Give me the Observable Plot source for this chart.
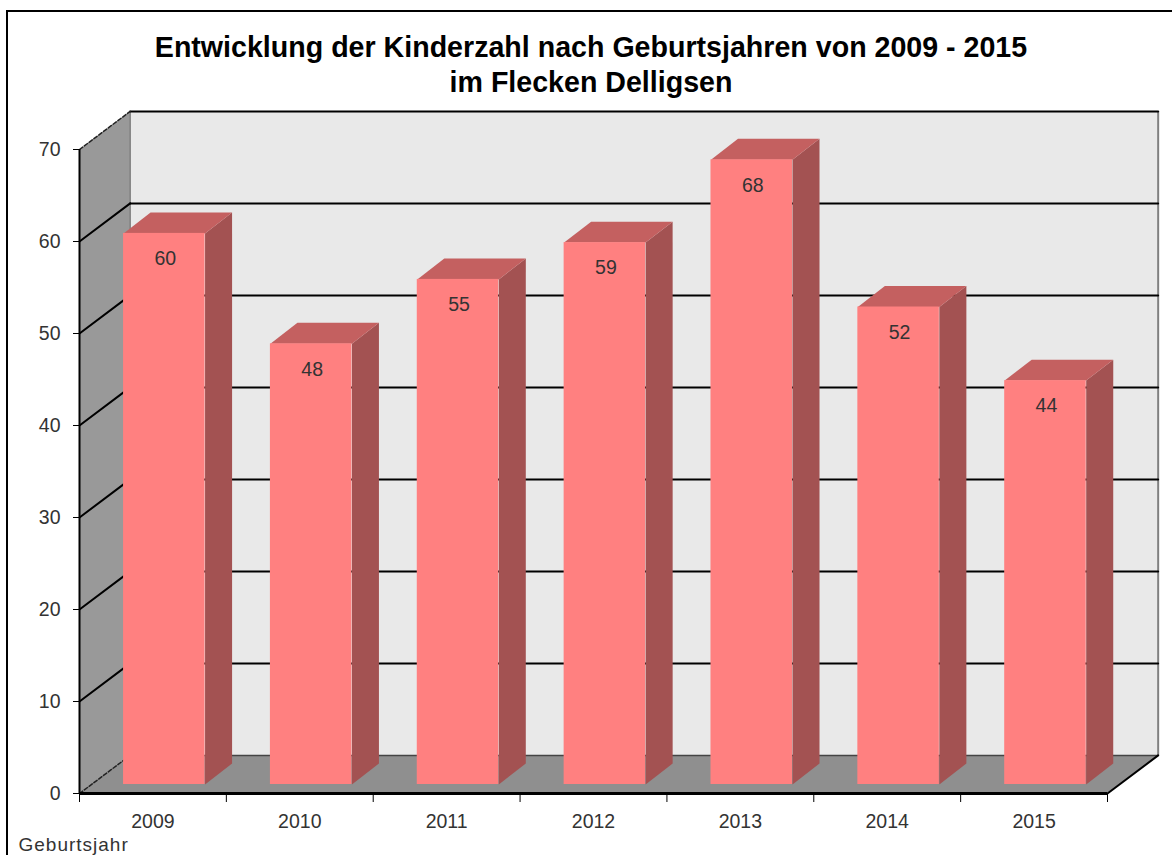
<!DOCTYPE html>
<html lang="de">
<head>
<meta charset="utf-8">
<title>Entwicklung der Kinderzahl</title>
<script src="https://cdn.jsdelivr.net/npm/d3@7"></script>
<script src="https://cdn.jsdelivr.net/npm/@observablehq/plot@0.6"></script>
<style>
  html, body { margin: 0; padding: 0; background: #fff; }
  body { width: 1172px; height: 855px; overflow: hidden; font-family: "Liberation Sans", Arial, sans-serif; }
  #frame { margin: 10px 0 0 6px; border-top: 2px solid #000; border-left: 2px solid #000; height: 843px; }
  #title { margin: 0; height: 70px; padding-top: 18px; padding-left: 2px; font-size: 28.6px; line-height: 35px; font-weight: bold; text-align: center; color: #000; white-space: nowrap; }
  #chart svg { display: block; overflow: visible; }
  .caption text { letter-spacing: 1px; }
</style>
</head>
<body>
<div id="frame">
  <h1 id="title">Entwicklung der Kinderzahl nach Geburtsjahren von 2009 - 2015<br>im Flecken Delligsen</h1>
  <div id="chart"></div>
</div>
<script>
const years = ["2009", "2010", "2011", "2012", "2013", "2014", "2015"];
const counts = [60, 48, 55, 59, 68, 52, 44];
const yTicks = [0, 10, 20, 30, 40, 50, 60, 70];
const xEdges = [0, 1, 2, 3, 4, 5, 6, 7];
const axisTitle = "Geburtsjahr";

// oblique 3D projection, expressed in data units of the two scales
const wallDx = 0.345, wallDy = 4.14;     // depth of the chart box
const barLeft = 0.30, barRight = 0.855;  // front face inside a category
const barLift = 0.88;                    // bar tops stand slightly behind the front edge
const barFoot = 0.98;                    // bar feet, same plane
const barDx = 0.184, barDy = 2.28;       // depth of a bar

const nCat = years.length, yMax = 70;
const poly = (pts) => pts.map(([x, y]) => ({x, y}));

const sideWall = poly([[0,0],[wallDx,wallDy],[wallDx,yMax+wallDy],[0,yMax]]);
const backWall = poly([[wallDx,wallDy],[nCat+wallDx,wallDy],[nCat+wallDx,yMax+wallDy],[wallDx,yMax+wallDy]]);
const floor = poly([[0,0],[nCat,0],[nCat+wallDx,wallDy],[wallDx,wallDy]]);

const gridBack = yTicks.filter(v => v > 0).flatMap(v => [
  {x: wallDx, y: v + wallDy, k: v}, {x: nCat + wallDx, y: v + wallDy, k: v}
]);
const gridSide = yTicks.filter(v => v > 0 && v < yMax).flatMap(v => [
  {x: 0, y: v, k: v}, {x: wallDx, y: v + wallDy, k: v}
]);
const dashedSide = [0, yMax].flatMap(v => [
  {x: 0, y: v, k: v}, {x: wallDx, y: v + wallDy, k: v}
]);

const bars = years.map((year, i) => ({
  year, value: counts[i],
  x1: i + barLeft, x2: i + barRight,
  y1: barFoot, y2: counts[i] + barLift
}));
const sideFaces = bars.flatMap((b, k) => poly([
  [b.x2, b.y1],[b.x2 + barDx, b.y1 + barDy],[b.x2 + barDx, b.y2 + barDy],[b.x2, b.y2]
]).map(p => ({...p, k})));
const topFaces = bars.flatMap((b, k) => poly([
  [b.x1, b.y2],[b.x2, b.y2],[b.x2 + barDx, b.y2 + barDy],[b.x1 + barDx, b.y2 + barDy]
]).map(p => ({...p, k})));

const chart = Plot.plot({
  width: 1164, height: 743,
  marginLeft: 71, marginRight: 65, marginTop: 49, marginBottom: 50,
  x: {domain: [0, nCat]},
  y: {domain: [0, yMax]},
  style: {fontFamily: '"Liberation Sans", Arial, sans-serif', fontSize: "19.5px", background: "transparent"},
  marks: [
    Plot.line(backWall, {x: "x", y: "y", fill: "#e9e9e9"}),
    Plot.line(sideWall, {x: "x", y: "y", fill: "#999999"}),
    Plot.line(floor, {x: "x", y: "y", fill: "#8f8f8f"}),
    Plot.ruleX([wallDx], {y1: wallDy, y2: yMax + wallDy, stroke: "#808080", strokeWidth: 1.5}),
    Plot.ruleX([nCat + wallDx], {y1: wallDy, y2: yMax + wallDy, stroke: "#808080", strokeWidth: 2}),
    Plot.line(gridBack, {x: "x", y: "y", z: "k", stroke: "#000", strokeWidth: 2}),
    Plot.line(gridSide, {x: "x", y: "y", z: "k", stroke: "#000", strokeWidth: 2}),
    Plot.line(dashedSide, {x: "x", y: "y", z: "k", stroke: "#222", strokeWidth: 1.5, strokeDasharray: "4,2"}),
    Plot.ruleY([wallDy], {x1: wallDx, x2: nCat + wallDx, stroke: "#444", strokeWidth: 1.5}),
    Plot.line([{x: nCat, y: 0}, {x: nCat + wallDx, y: wallDy}], {x: "x", y: "y", stroke: "#000", strokeWidth: 2}),
    Plot.line(sideFaces, {x: "x", y: "y", z: "k", fill: "#a35252"}),
    Plot.line(topFaces, {x: "x", y: "y", z: "k", fill: "#c46060"}),
    Plot.rect(bars, {x1: "x1", x2: "x2", y1: "y1", y2: "y2", fill: "#ff8080"}),
    Plot.text(bars, {
      x: d => (d.x1 + d.x2) / 2, y: "y2", text: d => String(d.value),
      dx: 1, dy: 25.5, fill: "#333", fontSize: 19.5
    }),
    Plot.ruleX([0], {stroke: "#000", strokeWidth: 2}),
    Plot.ruleY([0], {stroke: "#000", strokeWidth: 3}),
    Plot.axisY({ticks: yTicks, tickSize: 6, tickPadding: 13, fill: "#333", stroke: "#000", fontSize: 19.5, label: null}),
    Plot.axisX({ticks: xEdges, tickSize: 9, tickFormat: () => "", stroke: "#000", label: null}),
    Plot.axisX({
      ticks: xEdges.slice(0, -1).map(d => d + 0.5), tickSize: 0, tickPadding: 21,
      tickFormat: d => years[d - 0.5], fill: "#333", fontSize: 19.5, label: null
    }),
    Plot.text([axisTitle], {
      frameAnchor: "bottom-left", textAnchor: "start", fill: "#333", fontSize: 19,
      dx: -61, dy: 57, className: "caption"
    })
  ]
});
document.getElementById("chart").appendChild(chart);
</script>
</body>
</html>
